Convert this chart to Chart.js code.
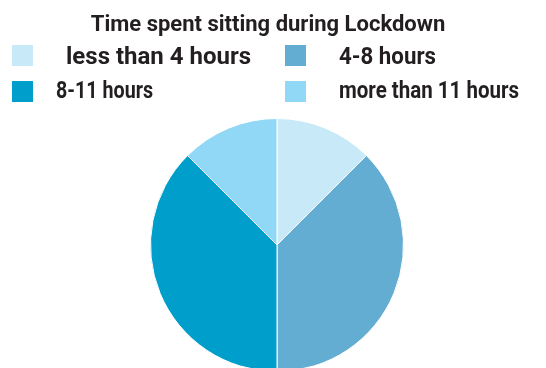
<!DOCTYPE html>
<html>
<head>
  <meta charset="UTF-8">
  <title>Time spent sitting during Lockdown</title>
  <script src="https://cdn.jsdelivr.net/npm/chart.js"></script>
  <style>
    html, body { margin: 0; padding: 0; background: #fff; overflow: hidden; }
    #wrap { width: 546px; height: 380px; position: relative; }
  </style>
</head>
<body>

<div id="wrap"><canvas id="pieChart"></canvas></div>

<script>
  const chartTitle = 'Time spent sitting during Lockdown';
  const labels = ['less than 4 hours', '4-8 hours', '8-11 hours', 'more than 11 hours'];
  const shares = [12.5, 37.5, 37.5, 12.5];
  const colors = ['#c7e9f8', '#63acd2', '#009ecb', '#90d8f6'];

  // legend is 2 columns, drawn by hand (built-in legend can't line up columns)
  // w = max text width, the original font has narrow proportional digits
  const legendPos = [
    { box: [12, 45], text: [66, 64], w: 185 },
    { box: [285, 45], text: [339, 64], w: 97 },
    { box: [12, 81], text: [56, 98], w: 97 },
    { box: [285, 81], text: [339, 98], w: 180 }
  ];

  const headerPlugin = {
    id: 'header',
    afterDraw(chart) {
      const ctx = chart.ctx;
      ctx.save();
      ctx.fillStyle = '#231f20';
      ctx.font = 'bold 22px Roboto';
      ctx.textAlign = 'center';
      ctx.textBaseline = 'alphabetic';
      ctx.fillText(chartTitle, 268, 31);

      ctx.font = 'bold 24px Roboto';
      ctx.textAlign = 'left';
      labels.forEach((lbl, i) => {
        const p = legendPos[i];
        ctx.fillStyle = colors[i];
        ctx.fillRect(p.box[0], p.box[1], 21, 21);
        ctx.fillStyle = '#231f20';
        ctx.fillText(lbl, p.text[0], p.text[1], p.w);
      });
      ctx.restore();
    }
  };

  new Chart(document.getElementById('pieChart'), {
    type: 'pie',
    data: {
      labels: labels,
      datasets: [{
        data: shares,
        backgroundColor: colors,
        borderColor: '#ffffff',
        borderWidth: 1
      }]
    },
    options: {
      responsive: true,
      maintainAspectRatio: false,
      animation: false,
      layout: { padding: { top: 118, bottom: 8, left: 8, right: 0 } },
      plugins: {
        legend: { display: false },
        tooltip: { enabled: false }
      }
    },
    plugins: [headerPlugin]
  });
</script>

</body>
</html>
